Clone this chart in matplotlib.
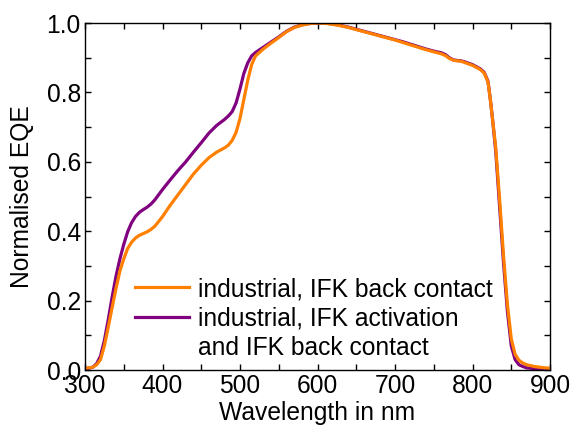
import matplotlib
matplotlib.use("Agg")
import matplotlib.pyplot as plt
from matplotlib.lines import Line2D

plt.rcParams['font.family'] = ['Liberation Sans', 'DejaVu Sans']

wl_orange = [300, 310, 315, 320, 325, 330, 335, 340, 345, 350, 355, 360, 365, 370, 375, 380, 385, 390,
             400, 410, 420, 430, 440, 450, 460, 470, 480, 485, 490, 495, 500, 505, 510, 515, 520, 530,
             540, 550, 560, 570, 580, 590, 600, 610, 620, 630, 640, 650, 660, 670, 680, 690, 700, 710,
             720, 730, 740, 750, 760, 765, 770, 775, 780, 785, 790, 800, 805, 810, 815, 820, 823, 826,
             830, 835, 840, 845, 850, 855, 860, 865, 870, 880, 890, 900]
eqe_orange = [0.005, 0.008, 0.015, 0.03, 0.07, 0.124, 0.18, 0.235, 0.285, 0.32, 0.35, 0.368, 0.38, 0.388,
              0.393, 0.398, 0.405, 0.414, 0.442, 0.475, 0.505, 0.535, 0.565, 0.59, 0.612, 0.628, 0.640,
              0.648, 0.662, 0.685, 0.725, 0.78, 0.835, 0.88, 0.905, 0.925, 0.942, 0.958, 0.975, 0.987,
              0.994, 0.998, 1.0, 0.999, 0.996, 0.992, 0.987, 0.981, 0.975, 0.969, 0.963, 0.957, 0.951,
              0.944, 0.937, 0.93, 0.923, 0.917, 0.911, 0.906, 0.898, 0.893, 0.891, 0.89, 0.886, 0.878,
              0.872, 0.866, 0.856, 0.83, 0.78, 0.72, 0.64, 0.49, 0.33, 0.19, 0.09, 0.045, 0.028, 0.02,
              0.015, 0.01, 0.007, 0.005]

wl_purple = [300, 310, 315, 320, 325, 330, 335, 340, 345, 350, 355, 360, 365, 370, 375, 380, 385, 390,
             400, 410, 420, 430, 440, 450, 460, 470, 480, 485, 490, 495, 500, 505, 510, 515, 520, 530,
             540, 550, 560, 570, 580, 590, 600, 610, 620, 630, 640, 650, 660, 670, 680, 690, 700, 710,
             720, 730, 740, 750, 760, 765, 770, 775, 780, 785, 790, 800, 805, 810, 815, 820, 823, 826,
             830, 835, 840, 845, 850, 855, 860, 865, 870, 880, 890, 900]
eqe_purple = [0.003, 0.008, 0.018, 0.04, 0.085, 0.145, 0.21, 0.27, 0.32, 0.362, 0.398, 0.424, 0.442, 0.454,
              0.462, 0.469, 0.478, 0.49, 0.52, 0.548, 0.575, 0.60, 0.628, 0.655, 0.683, 0.705, 0.722,
              0.732, 0.745, 0.77, 0.81, 0.855, 0.885, 0.905, 0.915, 0.93, 0.945, 0.96, 0.976, 0.988,
              0.995, 0.999, 1.0, 1.0, 0.997, 0.993, 0.988, 0.982, 0.976, 0.97, 0.964, 0.958, 0.952,
              0.946, 0.939, 0.932, 0.925, 0.919, 0.914, 0.909, 0.9, 0.894, 0.892, 0.891, 0.888, 0.88,
              0.874, 0.868, 0.858, 0.832, 0.78, 0.72, 0.63, 0.47, 0.31, 0.17, 0.07, 0.03, 0.015, 0.01,
              0.006, 0.004, 0.003, 0.003]

label_orange = "industrial, IFK back contact"
label_purple = "industrial, IFK activation"
label_purple_cont = "and IFK back contact"

c_orange = '#FF8000'
c_purple = '#800080'

fig = plt.figure(figsize=(5.73, 4.32), dpi=100)
ax = fig.add_axes([85/573, 1 - 370/432, (550-85)/573, (370-23)/432])

ax.plot(wl_purple, eqe_purple, color=c_purple, lw=2.3)
ax.plot(wl_orange, eqe_orange, color=c_orange, lw=2.3)

ax.set_xlim(300, 900)
ax.set_ylim(0, 1.0)
ax.set_xticks([300, 400, 500, 600, 700, 800, 900])
ax.set_xticks([350, 450, 550, 650, 750, 850], minor=True)
ax.set_yticks([0.0, 0.2, 0.4, 0.6, 0.8, 1.0])
ax.set_yticks([0.1, 0.3, 0.5, 0.7, 0.9], minor=True)
ax.set_yticklabels(['0.0', '0.2', '0.4', '0.6', '0.8', '1.0'])
fs = 17.7
ax.tick_params(which='both', direction='in', top=True, right=True, length=4, width=1,
               labelsize=fs, pad=3)
for s in ax.spines.values():
    s.set_linewidth(1.0)

ax.set_xlabel('Wavelength in nm', fontsize=fs, labelpad=2)
ax.set_ylabel('Normalised EQE', fontsize=fs, labelpad=9)

handles = [Line2D([], [], color=c_orange, lw=2.3),
           Line2D([], [], color=c_purple, lw=2.3),
           Line2D([], [], color='none', lw=0)]
ax.legend(handles, [label_orange, label_purple, label_purple_cont], loc='upper left',
          bbox_to_anchor=((135-85)/465, (370-277)/347), frameon=False, fontsize=fs,
          borderpad=0, borderaxespad=0, handlelength=2.2, handletextpad=0.35,
          labelspacing=0.22)

fig.savefig('out.png', dpi=100)
